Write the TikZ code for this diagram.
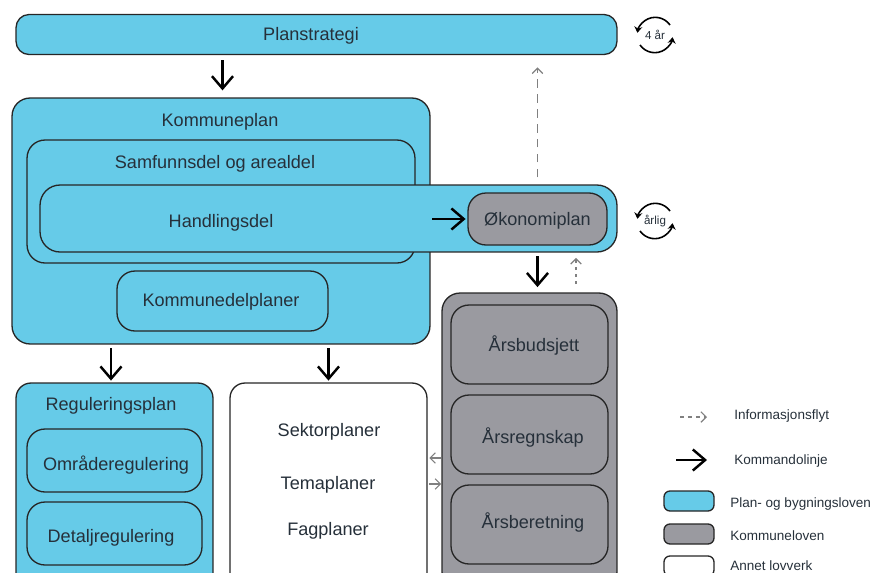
\documentclass[tikz,border=0pt]{standalone}
\usepackage{fontspec}
\setmainfont{Liberation Sans}
\usetikzlibrary{arrows.meta}
\definecolor{plblue}{HTML}{66CBE8}
\definecolor{klgray}{HTML}{9A9AA0}
\definecolor{txtcol}{HTML}{26303A}
\tikzset{
 box/.style={draw=black!85, line width=0.75pt, rounded corners=0.36cm, inner sep=0pt, text=txtcol, font=\fontsize{10.3}{12}\selectfont},
 bluebox/.style={box, fill=plblue},
 graybox/.style={box, fill=klgray},
 whitebox/.style={box, fill=white},
 keybox/.style={minimum width=1cm, minimum height=0.4cm, rounded corners=0.12cm},
 lbl/.style={text=txtcol, inner sep=0pt, yshift=-0.8pt, font=\fontsize{10.3}{12}\selectfont},
 keylbl/.style={text=txtcol, inner sep=0pt, anchor=west, yshift=-0.5pt, font=\fontsize{7.7}{9}\selectfont},
 cyc/.style={text=txtcol, inner sep=0pt, font=\fontsize{6.6}{8}\selectfont},
 cmd/.style={-{Straight Barb[length=7pt,width=12pt]}, line width=1.4pt, black},
 info/.style={-{Straight Barb[length=3pt,width=6pt]}, line width=0.7pt, gray, dash pattern=on 5pt off 3.5pt},
 cross/.style={-{Straight Barb[length=3pt,width=6pt]}, line width=0.6pt, gray},
 loopa/.style={-{Stealth[length=3.5pt,width=4.5pt]}, line width=0.9pt, black}
}
\begin{document}
\begin{tikzpicture}[x=0.02cm, y=-0.02cm]
 \useasboundingbox (0, 0) rectangle (873, 572);
 \clip (0, 0) rectangle (873, 572);

 \node[bluebox, rounded corners=0.26cm, minimum width=12.02cm, minimum height=0.8cm] (plan) at (316.5, 34.5) {};
 \node[lbl] (planlbl) at (311, 34) {Planstrategi};

 % kommuneplan and what sits inside it
 \node[bluebox, minimum width=8.36cm, minimum height=4.92cm] (kp) at (221, 221) {};
 \node[lbl] (kplbl) at (220, 120) {Kommuneplan};
 \node[bluebox, minimum width=7.76cm, minimum height=2.46cm] (samf) at (221, 201.5) {};
 \node[lbl] (samflbl) at (215, 162) {Samfunnsdel og arealdel};
 \node[bluebox, rounded corners=0.4cm, minimum width=11.54cm, minimum height=1.34cm] (hand) at (328.5, 218.5) {};
 \node[lbl] (handlbl) at (221, 221) {Handlingsdel};
 \node[graybox, minimum width=2.78cm, minimum height=1.04cm] (okon) at (537.5, 219) {};
 \node[lbl] (okonlbl) at (537.5, 219) {Økonomiplan};
 \node[bluebox, minimum width=4.22cm, minimum height=1.2cm] (kdel) at (222.5, 301) {};
 \node[lbl] (kdellbl) at (221, 300) {Kommunedelplaner};

 % reguleringsplan
 \node[bluebox, rounded corners=0.3cm, minimum width=3.94cm, minimum height=4.14cm] (reg) at (114.5, 486.5) {};
 \node[lbl] (reglbl) at (111, 404) {Reguleringsplan};
 \node[bluebox, minimum width=3.5cm, minimum height=1.26cm] (omr) at (114.5, 460.5) {};
 \node[lbl] (omrlbl) at (116, 464) {Områderegulering};
 \node[bluebox, minimum width=3.5cm, minimum height=1.26cm] (det) at (114.5, 533.5) {};
 \node[lbl] (detlbl) at (111, 536) {Detaljregulering};

 % annet lovverk
 \node[whitebox, rounded corners=0.3cm, minimum width=3.94cm, minimum height=4.14cm] (annet) at (328.5, 486.5) {};
 \node[lbl] (sektor) at (329, 430) {Sektorplaner};
 \node[lbl] (tema) at (328, 483) {Temaplaner};
 \node[lbl] (fag) at (328, 529) {Fagplaner};

 % kommuneloven
 \node[graybox, minimum width=3.5cm, minimum height=5.94cm] (bud) at (529.5, 441.5) {};
 \node[graybox, minimum width=3.14cm, minimum height=1.58cm] (arsb) at (529.5, 344.5) {};
 \node[lbl] (arsblbl) at (534, 344) {Årsbudsjett};
 \node[graybox, minimum width=3.14cm, minimum height=1.58cm] (arsr) at (529.5, 434.5) {};
 \node[lbl] (arsrlbl) at (533, 436) {Årsregnskap};
 \node[graybox, minimum width=3.14cm, minimum height=1.58cm] (arsm) at (529.5, 524.5) {};
 \node[lbl] (arsmlbl) at (533, 521) {Årsberetning};

 % kommandolinjer
 \draw[cmd, shorten <=3pt, shorten >=4pt] (plan.south -| kdel.north) -- (kdel.north |- kp.north);
 \draw[cmd, shorten <=2pt, shorten >=1pt] (kp.south -| reglbl) -- (reg.north -| reglbl);
 \draw[cmd, shorten <=2pt, shorten >=1pt] (kp.south -| annet.north) -- (annet.north);
 \draw[cmd, shorten <=2pt, shorten >=3pt] (hand.south -| okon.south) -- (bud.north -| okon.south);
 \coordinate (handout) at (432, 219);
 \draw[cmd, shorten >=1pt] (handout) -- (okon.west);

 % informasjonsflyt
 \draw[info, shorten <=4pt, shorten >=7pt] (hand.north -| okon.north) -- (plan.south -| okon.north);
 \coordinate (budup) at (576, 293);
 \draw[info, dash pattern=on 2pt off 2pt, shorten <=5pt, shorten >=3pt] (budup) -- (budup |- hand.south);
 \coordinate (grayw) at (442, 458);
 \coordinate (grayv) at (442, 484);
 \draw[cross, shorten <=0.5pt, shorten >=1pt] (grayw) -- (grayw -| annet.east);
 \draw[cross, shorten <=1pt, shorten >=0.5pt] (grayv -| annet.east) -- (grayv);

 % sykluser
 \node[cyc] (fire) at (655, 35) {4 år};
 \draw[loopa] (670, 25) arc (-35:-172:18);
 \draw[loopa] (640, 45) arc (-215:-352:18);
 \node[cyc] (arlig) at (655, 221) {årlig};
 \draw[loopa] (670, 211) arc (-35:-172:18);
 \draw[loopa] (640, 231) arc (-215:-352:18);

 % tegnforklaring
 \coordinate (infoa) at (680, 417);
 \coordinate (infob) at (707, 417);
 \draw[info, dash pattern=on 2.5pt off 2pt] (infoa) -- (infob);
 \node[keylbl] (infolbl) at (734, 415) {Informasjonsflyt};
 \coordinate (cmda) at (676, 460);
 \coordinate (cmdb) at (707, 460);
 \draw[cmd] (cmda) -- (cmdb);
 \node[keylbl] (cmdlbl) at (734, 460.5) {Kommandolinje};
 \node[bluebox, keybox] (keyblue) at (689, 501) {};
 \node[keylbl] (bluelbl) at (730, 503) {Plan- og bygningsloven};
 \node[graybox, keybox] (keygray) at (689, 534) {};
 \node[keylbl] (graylbl) at (730, 535) {Kommuneloven};
 \node[whitebox, keybox] (keywhite) at (689, 566) {};
 \node[keylbl] (whitelbl) at (730, 564.5) {Annet lovverk};
\end{tikzpicture}
\end{document}
